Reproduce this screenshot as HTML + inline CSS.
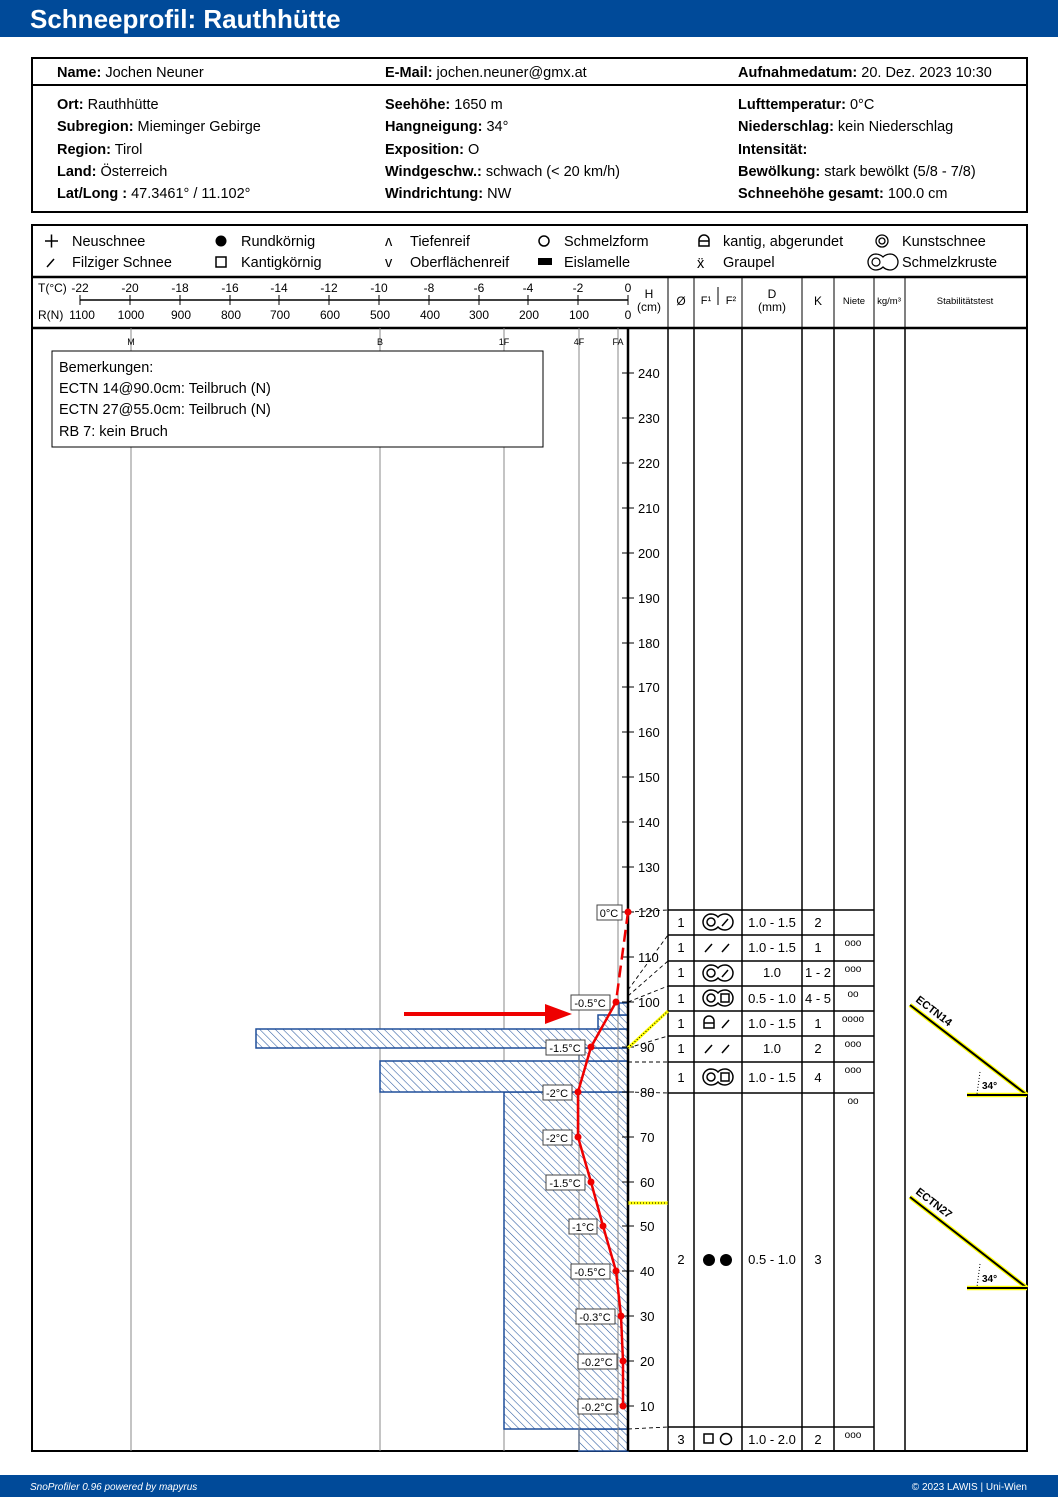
<!DOCTYPE html>
<html><head><meta charset="utf-8"><style>
html,body{margin:0;padding:0;background:#fff}
svg{display:block}
text{font-family:"Liberation Sans","DejaVu Sans",sans-serif;fill:#000}
.b{font-weight:bold}
</style></head><body>
<svg width="1058" height="1497" viewBox="0 0 1058 1497" xmlns="http://www.w3.org/2000/svg">
<defs>
<pattern id="h" width="5.5" height="5.5" patternUnits="userSpaceOnUse" patternTransform="rotate(-45)">
<rect width="5.5" height="5.5" fill="#fff"/><line x1="0" y1="0" x2="0" y2="5.5" stroke="#2a5aa0" stroke-width="1.1"/>
</pattern>
</defs>
<!-- header -->
<rect x="0" y="0" width="1058" height="37" fill="#004a99"/>
<text x="30" y="28" class="b" style="font-size:26px;fill:#fff">Schneeprofil: Rauthhütte</text>
<rect x="0" y="1475" width="1058" height="22" fill="#004a99"/>
<text x="30" y="1490" style="font-size:10px;font-style:italic;fill:#fff">SnoProfiler 0.96 powered by mapyrus</text>
<text x="1027" y="1490" text-anchor="end" style="font-size:10px;fill:#fff">© 2023 LAWIS | Uni-Wien</text>

<!-- info box -->
<rect x="32" y="58" width="995" height="154" fill="none" stroke="#000" stroke-width="2"/>
<line x1="32" y1="85" x2="1027" y2="85" stroke="#000" stroke-width="2"/>
<g style="font-size:14.5px">
<text x="57" y="77"><tspan class="b">Name:</tspan> Jochen Neuner</text>
<text x="385" y="77"><tspan class="b">E-Mail:</tspan> jochen.neuner@gmx.at</text>
<text x="738" y="77"><tspan class="b">Aufnahmedatum:</tspan> 20. Dez. 2023 10:30</text>
<text x="57" y="109"><tspan class="b">Ort:</tspan> Rauthhütte</text>
<text x="57" y="131"><tspan class="b">Subregion:</tspan> Mieminger Gebirge</text>
<text x="57" y="154"><tspan class="b">Region:</tspan> Tirol</text>
<text x="57" y="176"><tspan class="b">Land:</tspan> Österreich</text>
<text x="57" y="198"><tspan class="b">Lat/Long :</tspan> 47.3461° / 11.102°</text>
<text x="385" y="109"><tspan class="b">Seehöhe:</tspan> 1650 m</text>
<text x="385" y="131"><tspan class="b">Hangneigung:</tspan> 34°</text>
<text x="385" y="154"><tspan class="b">Exposition:</tspan> O</text>
<text x="385" y="176"><tspan class="b">Windgeschw.:</tspan> schwach (&lt; 20 km/h)</text>
<text x="385" y="198"><tspan class="b">Windrichtung:</tspan> NW</text>
<text x="738" y="109"><tspan class="b">Lufttemperatur:</tspan> 0°C</text>
<text x="738" y="131"><tspan class="b">Niederschlag:</tspan> kein Niederschlag</text>
<text x="738" y="154"><tspan class="b">Intensität:</tspan></text>
<text x="738" y="176"><tspan class="b">Bewölkung:</tspan> stark bewölkt (5/8 - 7/8)</text>
<text x="738" y="198"><tspan class="b">Schneehöhe gesamt:</tspan> 100.0 cm</text>
</g>

<!-- main box -->
<rect x="32" y="225" width="995" height="1226" fill="none" stroke="#000" stroke-width="2"/>
<line x1="32" y1="277" x2="1027" y2="277" stroke="#000" stroke-width="2.5"/>
<line x1="32" y1="328" x2="1027" y2="328" stroke="#000" stroke-width="2.5"/>

<!-- legend -->
<g style="font-size:14.5px">
<path d="M45 241h13M51.5 234.5v13" stroke="#000" stroke-width="1.5"/><text x="72" y="246">Neuschnee</text>
<path d="M47 267l7 -8" stroke="#000" stroke-width="1.5"/><text x="72" y="267">Filziger Schnee</text>
<circle cx="221" cy="241" r="5.5"/><text x="241" y="246">Rundkörnig</text>
<rect x="216" y="257" width="10" height="10" fill="none" stroke="#000" stroke-width="1.5"/><text x="241" y="267">Kantigkörnig</text>
<text x="385" y="246">ʌ</text><text x="410" y="246">Tiefenreif</text>
<text x="385" y="267">v</text><text x="410" y="267">Oberflächenreif</text>
<circle cx="544" cy="241" r="5" fill="none" stroke="#000" stroke-width="1.5"/><text x="564" y="246">Schmelzform</text>
<rect x="538" y="258" width="14" height="7"/><text x="564" y="267">Eislamelle</text>
<path d="M699 246 v-6 a5 5 0 0 1 10 0 v6 z M699 241 h10" fill="none" stroke="#000" stroke-width="1.5"/><text x="723" y="246">kantig, abgerundet</text>
<text x="697" y="268">ẍ</text><text x="723" y="267">Graupel</text>
<circle cx="882" cy="241" r="6" fill="none" stroke="#000" stroke-width="1.3"/><circle cx="882" cy="241" r="3" fill="none" stroke="#000" stroke-width="1.3"/><text x="902" y="246">Kunstschnee</text>
<path d="M876 254 a8 8 0 1 0 0 16 a10 8 0 0 0 7 -3 a10 8 0 0 0 7 3 a8 8 0 1 0 0 -16 a10 8 0 0 0 -7 3 a10 8 0 0 0 -7 -3 z" fill="none" stroke="#000" stroke-width="1.3"/>
<circle cx="876" cy="262" r="4" fill="none" stroke="#000" stroke-width="1.2"/>
<text x="902" y="267">Schmelzkruste</text>
</g>

<!-- axis header -->
<g style="font-size:12px">
<text x="38" y="292">T(°C)</text><text x="38" y="319">R(N)</text>
<line x1="80" y1="300" x2="628" y2="300" stroke="#000" stroke-width="1.5"/>
<g text-anchor="middle">
<text x="80" y="292">-22</text><text x="130" y="292">-20</text><text x="180" y="292">-18</text><text x="230" y="292">-16</text><text x="279" y="292">-14</text><text x="329" y="292">-12</text><text x="379" y="292">-10</text><text x="429" y="292">-8</text><text x="479" y="292">-6</text><text x="528" y="292">-4</text><text x="578" y="292">-2</text><text x="628" y="292">0</text>
<text x="82" y="319">1100</text><text x="131" y="319">1000</text><text x="181" y="319">900</text><text x="231" y="319">800</text><text x="280" y="319">700</text><text x="330" y="319">600</text><text x="380" y="319">500</text><text x="430" y="319">400</text><text x="479" y="319">300</text><text x="529" y="319">200</text><text x="579" y="319">100</text><text x="628" y="319">0</text>
<text x="649" y="298">H</text><text x="649" y="311">(cm)</text>
<text x="681" y="305">Ø</text><text x="706" y="304" style="font-size:11px">F¹</text><text x="731" y="304" style="font-size:11px">F²</text>
<text x="772" y="298">D</text><text x="772" y="311">(mm)</text><text x="818" y="305">K</text>
<text x="854" y="304" style="font-size:9.5px">Niete</text><text x="889" y="304" style="font-size:9.5px">kg/m³</text><text x="965" y="304" style="font-size:9.5px">Stabilitätstest</text>
</g>
<g stroke="#000" stroke-width="1">
<path d="M80 295v10M130 295v10M180 295v10M230 295v10M279 295v10M329 295v10M379 295v10M429 295v10M479 295v10M528 295v10M578 295v10M628 295v10"/>
<path d="M668 277v51M694 277v51M718 287v18M742 277v51M802 277v51M834 277v51M874 277v51M905 277v51"/>
</g>
</g>

<!-- vertical hardness lines -->
<g stroke="#888" stroke-width="1">
<path d="M131 328V1451M380 328V1451M504 328V1451M579 328V1451M618 328V1451"/>
</g>
<g style="font-size:9px" text-anchor="middle"><text x="131" y="345">M</text><text x="380" y="345">B</text><text x="504" y="345">1F</text><text x="579" y="345">4F</text><text x="618" y="345">FA</text></g>

<!-- comment box -->
<rect x="52" y="351" width="491" height="96" fill="#fff" stroke="#000" stroke-width="1"/>
<g style="font-size:14.5px">
<text x="59" y="372">Bemerkungen:</text>
<text x="59" y="393">ECTN 14@90.0cm: Teilbruch (N)</text>
<text x="59" y="414">ECTN 27@55.0cm: Teilbruch (N)</text>
<text x="59" y="436">RB 7: kein Bruch</text>
</g>

<!-- hardness bars -->
<g fill="url(#h)" stroke="#1f4e9a" stroke-width="1.5">
<rect x="579" y="1429" width="49" height="22"/>
<rect x="504" y="1092" width="124" height="337"/>
<rect x="380" y="1061" width="248" height="31"/>
<rect x="579" y="1048" width="49" height="13"/>
<rect x="256" y="1029" width="372" height="19"/>
<rect x="598" y="1015" width="30" height="14"/>
<rect x="619" y="1003" width="9" height="12"/>
</g>
<g stroke="#888" stroke-width="1"><path d="M579 1048V1451M618 1003V1451"/></g>

<!-- table columns -->
<g stroke="#000" stroke-width="1.5">
<path d="M668 328V1451M694 328V1451M742 328V1451M802 328V1451M834 328V1451M874 328V1451M905 328V1451"/>
<path d="M668 910H874M668 935H874M668 961H874M668 986H874M668 1011H874M668 1036H874M668 1062H874M668 1093H874M668 1427H874"/>
</g>

<!-- H axis -->
<line x1="628" y1="328" x2="628" y2="1451" stroke="#000" stroke-width="2.5"/>
<g stroke="#000" stroke-width="1">
<path d="M622 373h12M622 418h12M622 463h12M622 508h12M622 553h12M622 598h12M622 643h12M622 687h12M622 732h12M622 777h12M622 822h12M622 867h12M622 912h12M622 957h12M622 1002h12M622 1047h12M622 1092h12M622 1137h12M622 1182h12M622 1226h12M622 1271h12M622 1316h12M622 1361h12M622 1406h12"/>
</g>
<g style="font-size:13px">
<text x="638" y="378">240</text><text x="638" y="423">230</text><text x="638" y="468">220</text><text x="638" y="513">210</text><text x="638" y="558">200</text><text x="638" y="603">190</text><text x="638" y="648">180</text><text x="638" y="692">170</text><text x="638" y="737">160</text><text x="638" y="782">150</text><text x="638" y="827">140</text><text x="638" y="872">130</text><text x="638" y="917">120</text><text x="638" y="962">110</text><text x="638" y="1007">100</text><text x="640" y="1052">90</text><text x="640" y="1097">80</text><text x="640" y="1142">70</text><text x="640" y="1187">60</text><text x="640" y="1231">50</text><text x="640" y="1276">40</text><text x="640" y="1321">30</text><text x="640" y="1366">20</text><text x="640" y="1411">10</text>
</g>

<!-- connectors -->
<g stroke="#000" stroke-width="0.9" stroke-dasharray="4,3" fill="none">
<path d="M628 912L668 910M628 990L668 935M628 996L668 961M628 1002L668 986M628 1048L668 1036M628 1062H668M628 1092L668 1093M628 1429L668 1427"/>
</g>
<line x1="628" y1="1048" x2="668" y2="1011" stroke="#ff0" stroke-width="3"/>
<line x1="628" y1="1048" x2="668" y2="1011" stroke="#000" stroke-width="1" stroke-dasharray="1,2"/>
<line x1="628" y1="1203" x2="668" y2="1203" stroke="#ff0" stroke-width="3"/>
<line x1="628" y1="1203" x2="668" y2="1203" stroke="#000" stroke-width="1" stroke-dasharray="1,2"/>

<!-- table contents -->
<g style="font-size:13px" text-anchor="middle">
<text x="681" y="927">1</text><text x="772" y="927">1.0 - 1.5</text><text x="818" y="927">2</text>
<text x="681" y="952">1</text><text x="772" y="952">1.0 - 1.5</text><text x="818" y="952">1</text>
<text x="681" y="977">1</text><text x="772" y="977">1.0</text><text x="818" y="977">1 - 2</text>
<text x="681" y="1003">1</text><text x="772" y="1003">0.5 - 1.0</text><text x="818" y="1003">4 - 5</text>
<text x="681" y="1028">1</text><text x="772" y="1028">1.0 - 1.5</text><text x="818" y="1028">1</text>
<text x="681" y="1053">1</text><text x="772" y="1053">1.0</text><text x="818" y="1053">2</text>
<text x="681" y="1082">1</text><text x="772" y="1082">1.0 - 1.5</text><text x="818" y="1082">4</text>
<text x="681" y="1264">2</text><text x="772" y="1264">0.5 - 1.0</text><text x="818" y="1264">3</text>
<text x="681" y="1444">3</text><text x="772" y="1444">1.0 - 2.0</text><text x="818" y="1444">2</text>
<g style="font-size:10px"><text x="853" y="946">ooo</text><text x="853" y="972">ooo</text><text x="853" y="997">oo</text><text x="853" y="1022">oooo</text><text x="853" y="1047">ooo</text><text x="853" y="1073">ooo</text><text x="853" y="1104">oo</text><text x="853" y="1438">ooo</text></g>
</g>
<!-- grain symbols -->
<g fill="none" stroke="#000" stroke-width="1.5">
<path d="M711 914 a8 8 0 1 0 0 16 a9 8 0 0 0 7 -3 a9 8 0 0 0 7 3 a8 8 0 1 0 0 -16 a9 8 0 0 0 -7 3 a9 8 0 0 0 -7 -3 z"/>
<circle cx="711" cy="922" r="4"/><path d="M722 926l6 -7"/>
<path d="M711 965 a8 8 0 1 0 0 16 a9 8 0 0 0 7 -3 a9 8 0 0 0 7 3 a8 8 0 1 0 0 -16 a9 8 0 0 0 -7 3 a9 8 0 0 0 -7 -3 z"/>
<circle cx="711" cy="973" r="4"/><path d="M722 977l6 -7"/>
<path d="M711 990 a8 8 0 1 0 0 16 a9 8 0 0 0 7 -3 a9 8 0 0 0 7 3 a8 8 0 1 0 0 -16 a9 8 0 0 0 -7 3 a9 8 0 0 0 -7 -3 z"/>
<circle cx="711" cy="998" r="4"/><rect x="721" y="994" width="8" height="8"/>
<path d="M711 1069 a8 8 0 1 0 0 16 a9 8 0 0 0 7 -3 a9 8 0 0 0 7 3 a8 8 0 1 0 0 -16 a9 8 0 0 0 -7 3 a9 8 0 0 0 -7 -3 z"/>
<circle cx="711" cy="1077" r="4"/><rect x="721" y="1073" width="8" height="8"/>
<path d="M705 952l7 -8M722 952l7 -8M705 1053l7 -8M722 1053l7 -8M722 1028l7 -8"/>
<path d="M704 1028v-7a5 5 0 0 1 10 0v7z M704 1023h10"/>
<rect x="704" y="1434" width="9" height="9"/><circle cx="726" cy="1439" r="5.5"/>
</g>
<circle cx="709" cy="1260" r="6"/><circle cx="726" cy="1260" r="6"/>

<!-- stability tests -->
<g>
<line x1="910" y1="1005" x2="1027" y2="1095" stroke="#ff0" stroke-width="4.5"/>
<line x1="910" y1="1005" x2="1027" y2="1095" stroke="#000" stroke-width="2"/>
<line x1="967" y1="1095" x2="1027" y2="1095" stroke="#ff0" stroke-width="4.5"/>
<line x1="967" y1="1095" x2="1027" y2="1095" stroke="#000" stroke-width="2"/>
<line x1="980" y1="1072" x2="977" y2="1094" stroke="#000" stroke-width="1" stroke-dasharray="1,2"/>
<text x="982" y="1089" class="b" style="font-size:10px">34°</text>
<text transform="translate(915,1001) rotate(37.6)" class="b" style="font-size:11px">ECTN14</text>
<line x1="910" y1="1197" x2="1027" y2="1288" stroke="#ff0" stroke-width="4.5"/>
<line x1="910" y1="1197" x2="1027" y2="1288" stroke="#000" stroke-width="2"/>
<line x1="967" y1="1288" x2="1027" y2="1288" stroke="#ff0" stroke-width="4.5"/>
<line x1="967" y1="1288" x2="1027" y2="1288" stroke="#000" stroke-width="2"/>
<line x1="980" y1="1264" x2="977" y2="1287" stroke="#000" stroke-width="1" stroke-dasharray="1,2"/>
<text x="982" y="1282" class="b" style="font-size:10px">34°</text>
<text transform="translate(915,1193) rotate(37.6)" class="b" style="font-size:11px">ECTN27</text>
</g>

<!-- arrow -->
<line x1="404" y1="1014" x2="550" y2="1014" stroke="#e00" stroke-width="4"/>
<polygon points="545,1004 572,1014 545,1024" fill="#e00"/>

<!-- temperature -->
<path d="M628 912L616 1002" stroke="#e00" stroke-width="2.5" stroke-dasharray="12,6" fill="none"/>
<polyline points="616,1002 591,1047 578,1092 578,1137 591,1182 603,1226 616,1271 621,1316 623,1361 623,1406" stroke="#e00" stroke-width="2.5" fill="none"/>
<g fill="#e00"><circle cx="628" cy="912" r="3.5"/><circle cx="616" cy="1002" r="3.5"/><circle cx="591" cy="1047" r="3.5"/><circle cx="578" cy="1092" r="3.5"/><circle cx="578" cy="1137" r="3.5"/><circle cx="591" cy="1182" r="3.5"/><circle cx="603" cy="1226" r="3.5"/><circle cx="616" cy="1271" r="3.5"/><circle cx="621" cy="1316" r="3.5"/><circle cx="623" cy="1361" r="3.5"/><circle cx="623" cy="1406" r="3.5"/></g>
<g fill="#fff" stroke="#444" stroke-width="1">
<rect x="597" y="905" width="25" height="15"/><rect x="571" y="995" width="39" height="15"/><rect x="546" y="1040" width="39" height="15"/><rect x="543" y="1085" width="29" height="15"/><rect x="543" y="1130" width="29" height="15"/><rect x="546" y="1175" width="39" height="15"/><rect x="569" y="1219" width="28" height="15"/><rect x="571" y="1264" width="39" height="15"/><rect x="576" y="1309" width="39" height="15"/><rect x="578" y="1354" width="39" height="15"/><rect x="578" y="1399" width="39" height="15"/>
</g>
<g style="font-size:11px" text-anchor="middle">
<text x="609" y="917">0°C</text><text x="590" y="1007">-0.5°C</text><text x="565" y="1052">-1.5°C</text><text x="557" y="1097">-2°C</text><text x="557" y="1142">-2°C</text><text x="565" y="1187">-1.5°C</text><text x="583" y="1231">-1°C</text><text x="590" y="1276">-0.5°C</text><text x="595" y="1321">-0.3°C</text><text x="597" y="1366">-0.2°C</text><text x="597" y="1411">-0.2°C</text>
</g>
</svg>
</body></html>
